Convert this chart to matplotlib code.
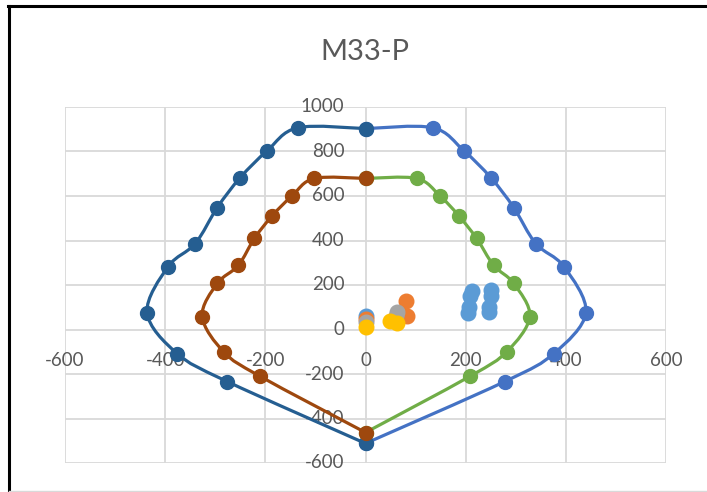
import matplotlib
matplotlib.use('Agg')
import matplotlib.pyplot as plt
import matplotlib.transforms as mtransforms
import numpy as np
from matplotlib.path import Path
from matplotlib.patches import PathPatch
from matplotlib.lines import Line2D

plt.rcParams['font.family'] = ['Lato', 'DejaVu Sans']

# interaction envelope, right half and left half
outer_right_x = [0, 134, 196, 250, 296, 340, 396, 440, 376, 278, 0]
outer_right_y = [903, 907, 804, 683, 548, 386, 283, 76, -108, -234, -512]
outer_left_x = [0, -135, -196, -250, -296, -340, -394, -436, -376, -276, 0]
outer_left_y = [903, 907, 804, 683, 548, 386, 283, 76, -108, -234, -512]

inner_right_x = [0, 102, 148, 186, 222, 256, 296, 328, 282, 208, 0]
inner_right_y = [679, 679, 602, 512, 409, 288, 207, 58, -100, -211, -463]
inner_left_x = [0, -102, -146, -186, -222, -254, -296, -326, -282, -210, 0]
inner_left_y = [679, 679, 602, 512, 409, 288, 207, 58, -103, -211, -463]

# demand points
blue_x = [0, 212, 209, 206, 204, 251, 250, 247, 246]
blue_y = [60, 174, 150, 100, 76, 176, 152, 102, 78]
orange_x = [0, 80, 82]
orange_y = [47, 130, 62]
gray_x = [0, 62, 60]
gray_y = [33, 78, 60]
yellow_x = [0, 48, 63]
yellow_y = [11, 40, 27]

xticks = [-600, -400, -200, 0, 200, 400, 600]
yticks = [-600, -400, -200, 0, 200, 400, 600, 800, 1000]

fig = plt.figure(figsize=(7.07, 4.92), dpi=100)
ax = fig.add_axes([65 / 707, 29 / 492, 601 / 707, 356 / 492])
ax.set_xlim(-600, 600)
ax.set_ylim(-600, 1000)
ax.set_xticks(xticks)
ax.set_yticks(yticks)
ax.set_xticklabels([])
ax.set_yticklabels([])
ax.tick_params(length=0)
for s in ax.spines.values():
    s.set_visible(False)
ax.grid(True, color='#D9D9D9', lw=1.3)
ax.set_axisbelow(True)

txt = '#595959'
xoff = mtransforms.offset_copy(ax.transData, fig=fig, x=0, y=-31, units='dots')
for v in xticks:
    ax.text(v, 0, str(v), transform=xoff, ha='center', va='center',
            fontsize=13.5, color=txt, zorder=1.5)
yoff = mtransforms.offset_copy(ax.transData, fig=fig, x=-21, y=0, units='dots')
for v in yticks:
    ax.text(0, v, str(v), transform=yoff, ha='right', va='center',
            fontsize=13.5, color=txt, zorder=1.5)


def smooth_path(xs, ys):
    # Excel-like smoothed line (Catmull-Rom as cubic bezier, in screen space)
    pts = ax.transData.transform(np.column_stack([xs, ys]))
    n = len(pts)
    verts = [pts[0]]
    codes = [Path.MOVETO]
    for i in range(n - 1):
        p0 = pts[max(i - 1, 0)]
        p1 = pts[i]
        p2 = pts[i + 1]
        p3 = pts[min(i + 2, n - 1)]
        verts += [p1 + (p2 - p0) / 6, p2 - (p3 - p1) / 6, p2]
        codes += [Path.CURVE4] * 3
    verts = ax.transData.inverted().transform(np.array(verts))
    return Path(verts, codes)


for xs, ys, c in [(blue_x, blue_y, '#5B9BD5'), (orange_x, orange_y, '#ED7D31'),
                  (gray_x, gray_y, '#A5A5A5'), (yellow_x, yellow_y, '#FFC000')]:
    ax.plot(xs, ys, 'o', ms=10.5, color=c, ls='none', zorder=3)

for xs, ys, c in [(outer_right_x, outer_right_y, '#4472C4'),
                  (inner_right_x, inner_right_y, '#70AD47'),
                  (outer_left_x, outer_left_y, '#255E91'),
                  (inner_left_x, inner_left_y, '#9E480E')]:
    ax.add_patch(PathPatch(smooth_path(xs, ys), fill=False, edgecolor=c,
                           lw=2.3, capstyle='round', joinstyle='round', zorder=3))
    ax.plot(xs, ys, 'o', ms=10, color=c, ls='none', zorder=3)

fig.text(365 / 707, 1 - 52.5 / 492, 'M33-P', ha='center', va='center',
         fontsize=21, color=txt)

# frame of the screenshot
fig.add_artist(Line2D([8.5 / 707, 8.5 / 707], [0, 1 - 5.5 / 492], color='black', lw=2.2))
fig.add_artist(Line2D([8 / 707, 1], [1 - 5.5 / 492, 1 - 5.5 / 492], color='black', lw=2.2))
fig.add_artist(Line2D([9 / 707, 1], [1 - 491 / 492, 1 - 491 / 492], color='#D9D9D9', lw=1))

fig.savefig('out.png', dpi=100)
